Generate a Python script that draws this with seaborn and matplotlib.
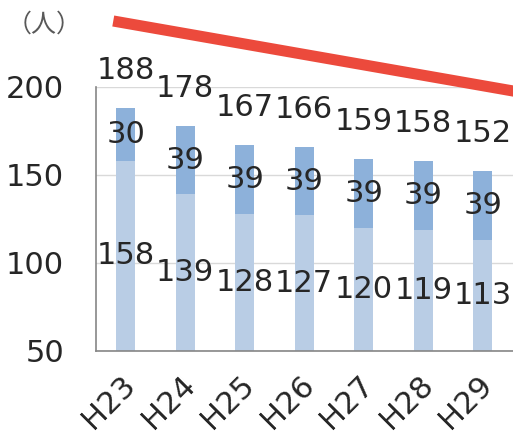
import matplotlib
matplotlib.use("Agg")
import matplotlib.pyplot as plt
import matplotlib.transforms as mtransforms
import seaborn as sns

# データ
years = ["H23", "H24", "H25", "H26", "H27", "H28", "H29"]
base = [158, 139, 128, 127, 120, 119, 113]
upper = [30, 39, 39, 39, 39, 39, 39]
totals = [b + u for b, u in zip(base, upper)]

# 赤い減少傾向の線 (装飾)
trend_x = [-0.21, 6.7]
trend_y = [237.5, 196.6]

light = "#b9cde5"
dark = "#8db1da"
red = "#ec4a3c"

sns.set_style("white")
plt.rcParams["font.family"] = ["DejaVu Sans", "Noto Sans CJK JP"]

fig = plt.figure(figsize=(5.13, 4.45), dpi=100)
ax = fig.add_axes([96 / 513, 1 - 351 / 445, (512.5 - 96) / 513, (351 - 87) / 445])

# 積み上げ棒 (合計を先に、下段を上に重ねる)
sns.barplot(x=years, y=totals, color=dark, width=0.32, saturation=1, linewidth=0, ax=ax)
sns.barplot(x=years, y=base, color=light, width=0.32, saturation=1, linewidth=0, ax=ax)

ax.set_ylim(50, 200)
ax.set_xlim(-0.5, 6.5)
ax.set_yticks([50, 100, 150, 200])
ax.yaxis.grid(True, color="#d9d9d9", linewidth=1)
ax.set_axisbelow(True)
for s in ["top", "right"]:
    ax.spines[s].set_visible(False)
for s in ["left", "bottom"]:
    ax.spines[s].set_color("#868686")
    ax.spines[s].set_linewidth(1.2)
ax.tick_params(axis="y", length=0, pad=23, labelsize=22)
ax.tick_params(axis="x", length=0, pad=14, labelsize=22)
shift = mtransforms.ScaledTranslation(-5 / 100, 0, fig.dpi_scale_trans)
for lab in ax.get_xticklabels():
    lab.set_rotation(45)
    lab.set_ha("right")
    lab.set_va("top")
    lab.set_rotation_mode("anchor")
    lab.set_transform(lab.get_transform() + shift)
ax.set_xlabel("")
ax.set_ylabel("")

# 値ラベル
for i, (b, u, t) in enumerate(zip(base, upper, totals)):
    ax.text(i, (50 + b) / 2, str(b), ha="center", va="center", fontsize=22)
    ax.text(i, b + u / 2, str(u), ha="center", va="center", fontsize=22)
    ax.annotate(str(t), (i, t), xytext=(0, 27), textcoords="offset points",
                ha="center", va="center", fontsize=22, annotation_clip=False)

ax.plot(trend_x, trend_y, color=red, linewidth=8, solid_capstyle="butt", clip_on=False)

fig.text(44 / 513, 1 - 25 / 445, "（人）", ha="center", va="center", fontsize=18,
         color="#595959", family=["Noto Sans CJK JP", "DejaVu Sans"])

fig.savefig("out.png", dpi=100)
